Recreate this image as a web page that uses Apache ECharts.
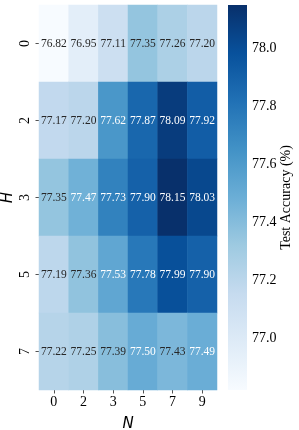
<!DOCTYPE html>
<html><head><meta charset="utf-8">
<script src="https://cdn.jsdelivr.net/npm/echarts@6/dist/echarts.min.js"></script>
<style>html,body{margin:0;padding:0;background:#fff}#c{width:299px;height:430px}</style>
</head><body><div id="c"></div>
<script>
const colLabels = ['0','2','3','5','7','9'];
const rowLabels = ['0','2','3','5','7'];
const row0 = [76.82,76.95,77.11,77.35,77.26,77.20];
const row2 = [77.17,77.20,77.62,77.87,78.09,77.92];
const row3 = [77.35,77.47,77.73,77.90,78.15,78.03];
const row5 = [77.19,77.36,77.53,77.78,77.99,77.90];
const row7 = [77.22,77.25,77.39,77.50,77.43,77.49];
const cbTicks = [77.0,77.2,77.4,77.6,77.8,78.0];

const rows = [row0,row2,row3,row5,row7];
const all = rows.flat();
const vmin = Math.min(...all), vmax = Math.max(...all);
const blues = ['#f7fbff','#deebf7','#c6dbef','#9ecae1','#6baed6','#4292c6','#2171b5','#08519c','#08306b'];

function hex(h){return [1,3,5].map(i=>parseInt(h.substr(i,2),16));}
function cmap(t){
  t=Math.max(0,Math.min(1,t));
  const s=t*(blues.length-1); const i=Math.min(Math.floor(s),blues.length-2); const f=s-i;
  const a=hex(blues[i]), b=hex(blues[i+1]);
  return a.map((v,k)=>v+(b[k]-v)*f);
}
function lum(rgb){
  const l=rgb.map(c=>{c/=255;return c<=0.03928?c/12.92:Math.pow((c+0.055)/1.055,2.4);});
  return 0.2126*l[0]+0.7152*l[1]+0.0722*l[2];
}
const data=[];
rows.forEach((r,ri)=>r.forEach((v,ci)=>{
  const L=lum(cmap((v-vmin)/(vmax-vmin)));
  data.push({value:[ci,ri,v],label:{color:L>0.408?'#262626':'#ffffff'}});
}));

const serif='"Liberation Serif","Times New Roman",serif';
const chart=echarts.init(document.getElementById('c'),null,{renderer:'canvas'});
chart.setOption({
  animation:false,
  backgroundColor:'#fff',
  grid:[
    {left:39,top:5,width:178,height:385,outerBoundsMode:'none',containLabel:false},
    {left:228,top:5,width:19,height:385,outerBoundsMode:'none',containLabel:false}
  ],
  xAxis:[
    {type:'category',gridIndex:0,data:colLabels,position:'bottom',
     axisLine:{show:false},axisTick:{show:true,alignWithLabel:true,length:3.5,lineStyle:{color:'#262626',width:0.8}},
     axisLabel:{margin:5,fontFamily:serif,fontSize:14,color:'#000'},
     splitLine:{show:false},
     name:'N',nameLocation:'middle',nameGap:27,nameMoveOverlap:false,
     nameTextStyle:{fontFamily:'"DejaVu Sans"',fontStyle:'italic',fontSize:15,color:'#000'}},
    {type:'value',gridIndex:1,min:0,max:1,show:false}
  ],
  yAxis:[
    {type:'category',gridIndex:0,data:rowLabels,inverse:true,
     axisLine:{show:false},axisTick:{show:true,alignWithLabel:true,length:3.5,lineStyle:{color:'#262626',width:0.8}},
     axisLabel:{margin:7,rotate:90,fontFamily:serif,fontSize:14,color:'#000'},
     splitLine:{show:false},
     name:'H',nameLocation:'middle',nameGap:23,nameRotate:90,nameMoveOverlap:false,
     nameTextStyle:{fontFamily:'"DejaVu Sans"',fontStyle:'italic',fontSize:15,color:'#000'}},
    {type:'value',gridIndex:1,min:vmin,max:vmax,position:'right',
     axisLine:{show:false},
     axisTick:{show:true,length:3.5,customValues:cbTicks,lineStyle:{color:'#262626',width:0.8}},
     axisLabel:{margin:5,customValues:cbTicks,formatter:v=>v.toFixed(1),fontFamily:serif,fontSize:14,color:'#000'},
     splitLine:{show:false},
     name:'Test Accuracy (%)',nameLocation:'middle',nameGap:32,nameRotate:90,nameMoveOverlap:false,
     nameTextStyle:{fontFamily:serif,fontSize:14,color:'#000'}}
  ],
  visualMap:{show:false,type:'continuous',min:vmin,max:vmax,seriesIndex:0,inRange:{color:blues}},
  series:[
    {type:'heatmap',xAxisIndex:0,yAxisIndex:0,data:data,
     itemStyle:{borderWidth:0},
     label:{show:true,formatter:p=>p.value[2].toFixed(2),fontFamily:serif,fontSize:11.5},
     emphasis:{disabled:true}},
    {type:'custom',xAxisIndex:1,yAxisIndex:1,data:[[0]],silent:true,
     renderItem:function(params,api){
       const top=api.coord([0,vmax]);
       const bot=api.coord([1,vmin]);
       const stops=blues.map((c,i)=>({offset:i/(blues.length-1),color:c}));
       return {type:'rect',shape:{x:top[0],y:top[1],width:bot[0]-top[0],height:bot[1]-top[1]},
         style:{fill:new echarts.graphic.LinearGradient(0,1,0,0,stops)}};
     }}
  ]
});
</script></body></html>
